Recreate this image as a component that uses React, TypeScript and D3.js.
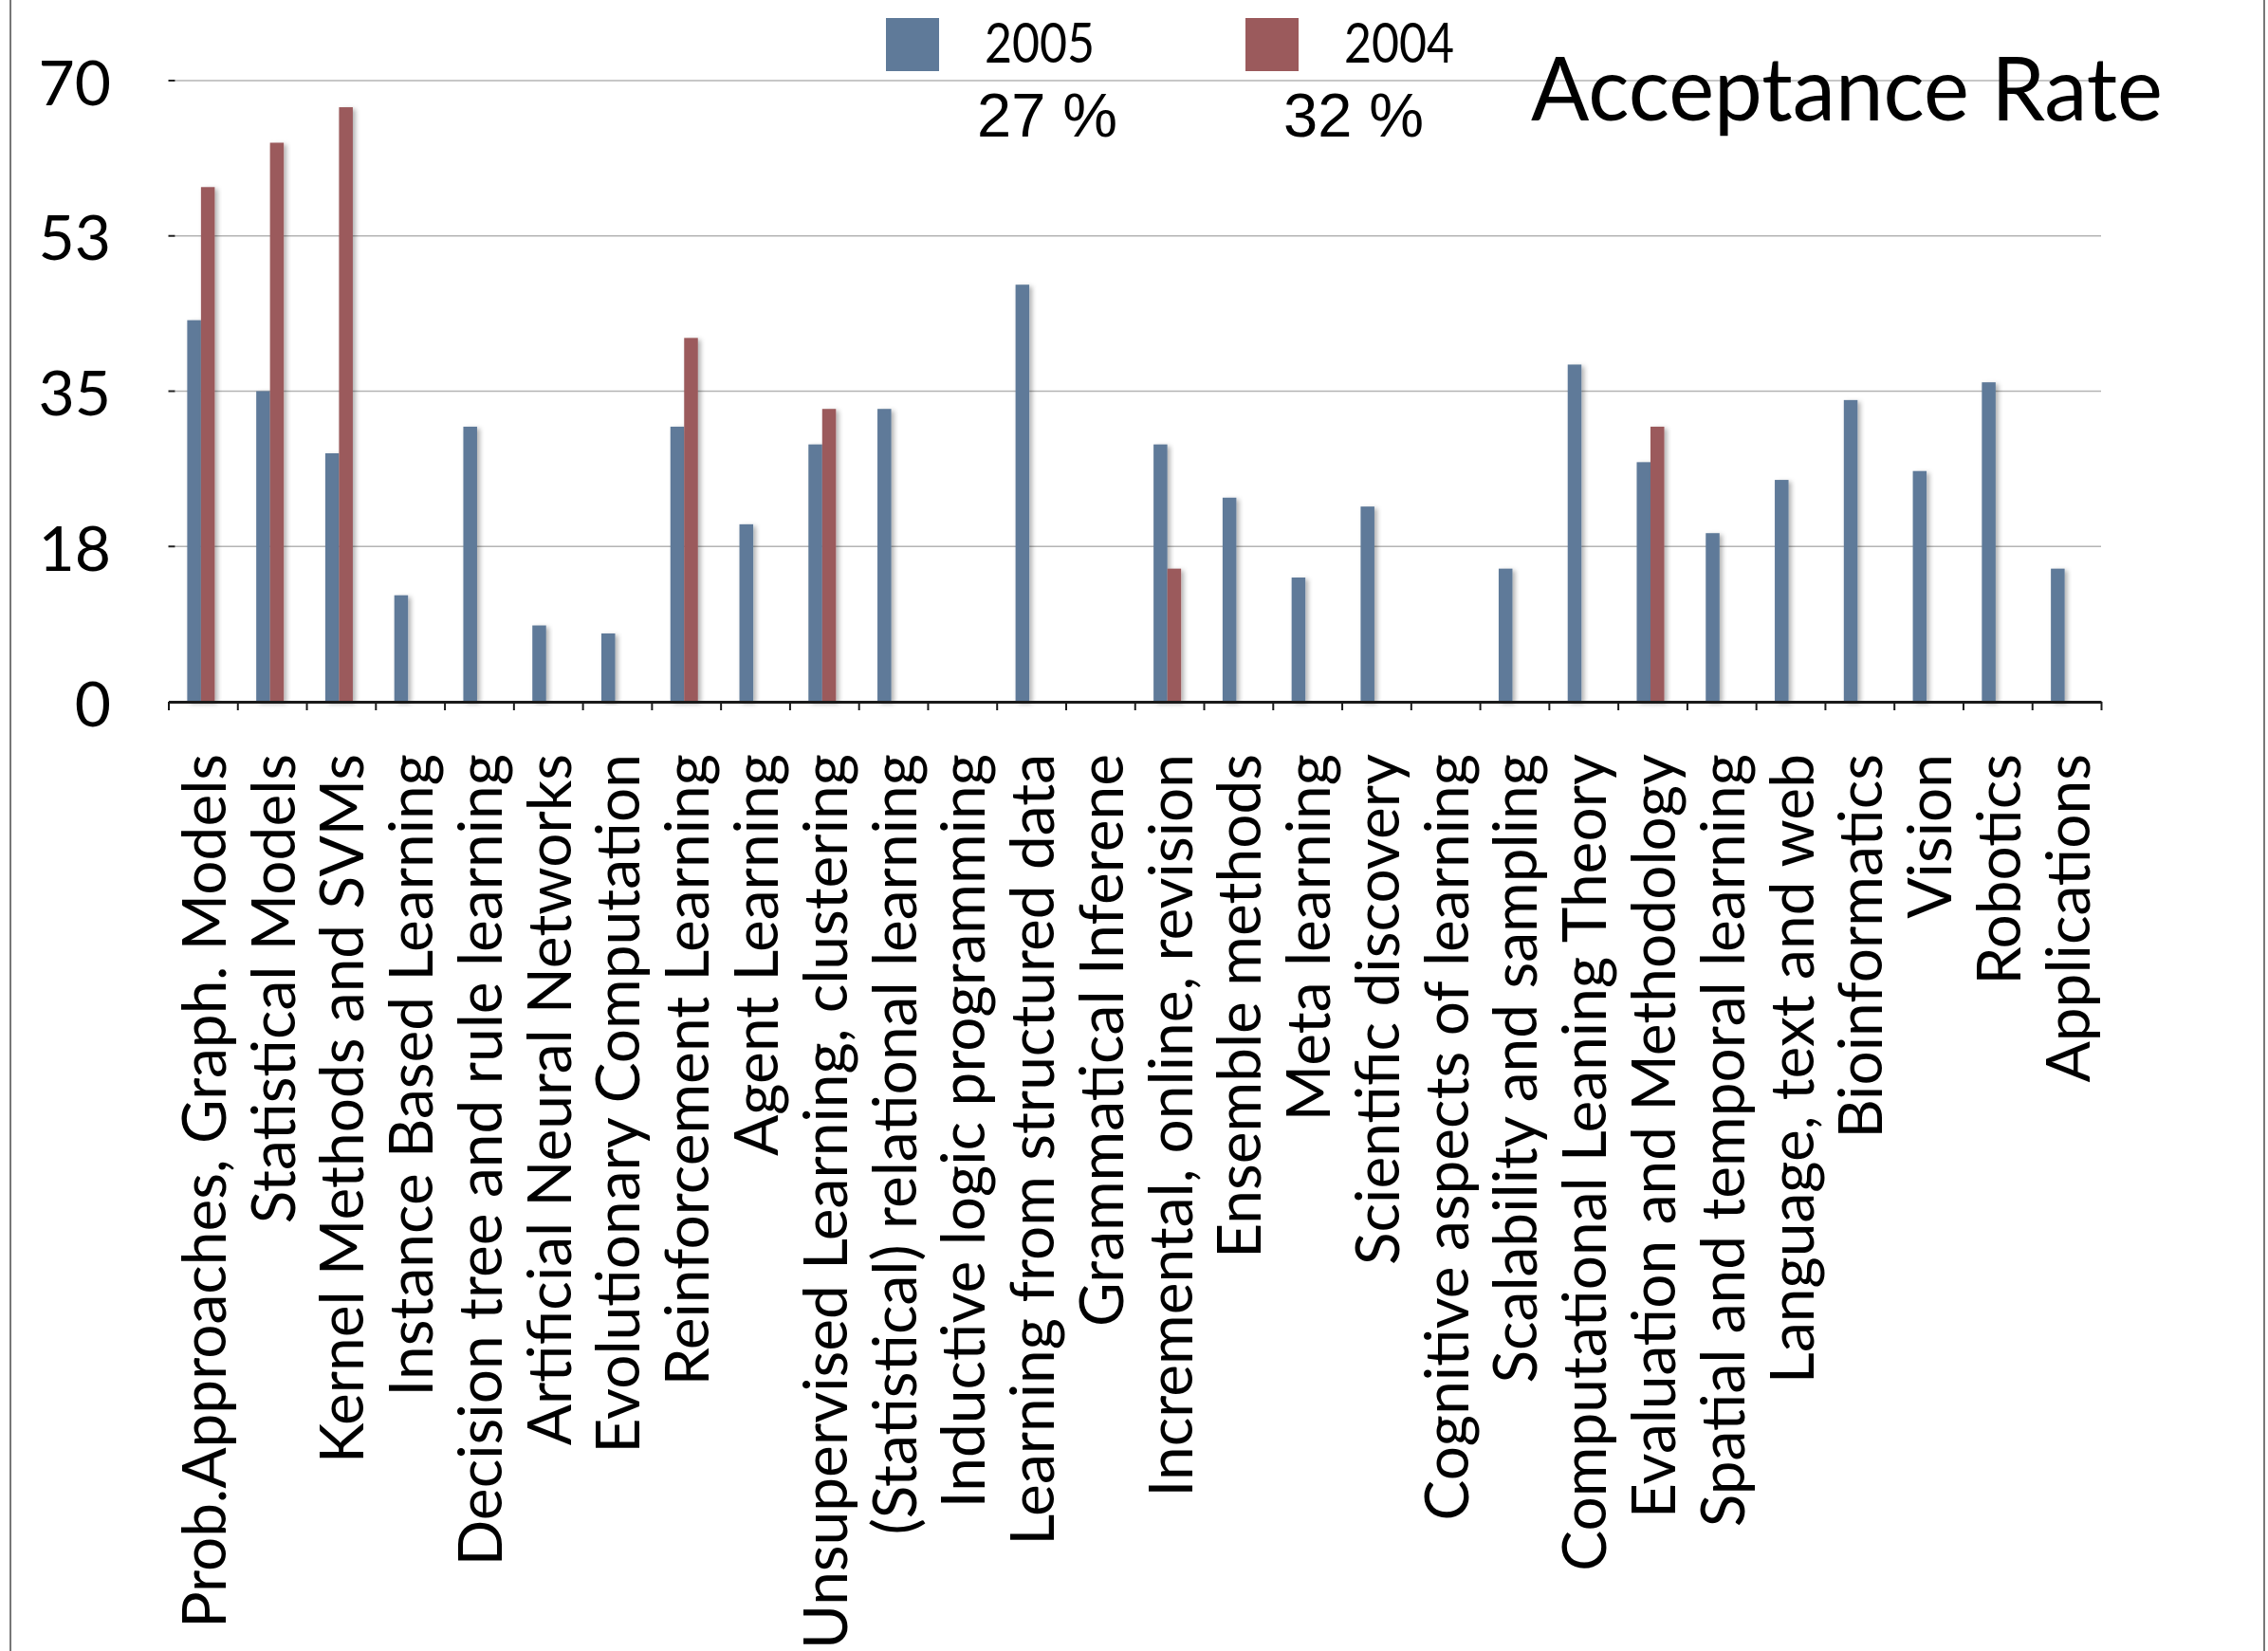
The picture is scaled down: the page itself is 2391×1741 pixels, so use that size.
import * as d3 from 'd3';
import { useEffect, useRef } from 'react';

// categories along the x axis, left to right
const categories = [
  'Prob.Approaches, Graph. Models',
  'Statistical Models',
  'Kernel Methods and SVMs',
  'Instance Based Learning',
  'Decision tree and rule learning',
  'Artificial Neural Networks',
  'Evolutionary Computation',
  'Reinforcement Learning',
  'Agent Learning',
  'Unsupervised Learning, clustering',
  '(Statistical) relational learning',
  'Inductive logic programming',
  'Learning from structured data',
  'Grammatical Inferene',
  'Incremental, online, revision',
  'Ensemble methods',
  'Meta learning',
  'Scientific discovery',
  'Cognitive aspects of learning',
  'Scalability and sampling',
  'Computational Leaning Theory',
  'Evaluation and Methodology',
  'Spatial and temporal learning',
  'Language, text and web',
  'Bioinformatics',
  'Vision',
  'Robotics',
  'Applications',
];

// null = no bar
const values2005 = [43, 35, 28, 12, 31, 8.6, 7.7, 31, 20, 29, 33, null, 47, null, 29, 23, 14, 22, null, 15, 38, 27, 19, 25, 34, 26, 36, 15];
const values2004 = [58, 63, 67, null, null, null, null, 41, null, 33, null, null, null, null, 15, null, null, null, null, null, null, 31, null, null, null, null, null, null];

const seriesNames = ['2005', '2004'];
const seriesRates = ['27 %', '32 %'];
const seriesColors = ['#5f7a99', '#9b5a5c'];

const yTickValues = [0, 17.5, 35, 52.5, 70];
const yTickLabels = ['0', '18', '35', '53', '70'];

export default function App() {
  const ref = useRef<SVGSVGElement>(null);

  useEffect(() => {
    const svg = d3.select(ref.current);
    svg.selectAll('*').remove();

    const width = 2391, height = 1741;
    const plot = { left: 177.5, right: 2215, top: 85, bottom: 740 };

    const x = d3.scaleBand().domain(categories).range([plot.left, plot.right]);
    const xs = d3.scaleBand().domain(seriesNames).range([-16.5, 12.5]);
    const xi = d3.scaleLinear().domain([0, categories.length]).range([plot.left, plot.right]);
    const y = d3.scaleLinear().domain([0, 70]).range([plot.bottom, plot.top]);
    const color = d3.scaleOrdinal<string, string>().domain(seriesNames).range(seriesColors);

    svg.append('rect').attr('width', width).attr('height', height).attr('fill', '#fff');

    const defs = svg.append('defs');
    defs.append('filter').attr('id', 'barShadow')
      .attr('x', '-50%').attr('y', '-5%').attr('width', '200%').attr('height', '110%')
      .append('feDropShadow')
      .attr('dx', 3).attr('dy', 2).attr('stdDeviation', 2.5)
      .attr('flood-color', '#000').attr('flood-opacity', 0.3);

    // slide edges
    svg.append('line').attr('x1', 11).attr('x2', 11).attr('y1', 0).attr('y2', height)
      .attr('stroke', '#777').attr('stroke-width', 2);
    svg.append('line').attr('x1', 2387).attr('x2', 2387).attr('y1', 0).attr('y2', height)
      .attr('stroke', '#777').attr('stroke-width', 2);

    // gridlines + y ticks
    svg.append('g').selectAll('line').data(yTickValues.slice(1)).join('line')
      .attr('x1', plot.left + 7).attr('x2', plot.right)
      .attr('y1', (d) => y(d)).attr('y2', (d) => y(d))
      .attr('stroke', '#b4b4b4').attr('stroke-width', 1.6);

    svg.append('g').selectAll('line').data(yTickValues.slice(1)).join('line')
      .attr('x1', plot.left).attr('x2', plot.left + 7)
      .attr('y1', (d) => y(d)).attr('y2', (d) => y(d))
      .attr('stroke', '#222').attr('stroke-width', 2);

    svg.append('g').selectAll('text').data(yTickValues).join('text')
      .attr('x', 117).attr('y', (d) => y(d)).attr('dy', '0.39em')
      .attr('text-anchor', 'end')
      .style('font-family', 'Lato, sans-serif').style('font-size', '66px')
      .text((d, i) => yTickLabels[i]);

    // bars
    const rows = categories.map((c, i) => ({ c, vals: [values2005[i], values2004[i]] }));
    const groups = svg.append('g').selectAll('g').data(rows).join('g')
      .attr('transform', (d) => `translate(${x(d.c)! + x.bandwidth() / 2},0)`);
    groups.selectAll('rect')
      .data((d) => seriesNames.map((s, k) => ({ s, v: d.vals[k] })).filter((e) => e.v != null))
      .join('rect')
      .attr('x', (d) => xs(d.s)!)
      .attr('width', xs.bandwidth())
      .attr('y', (d) => y(d.v as number))
      .attr('height', (d) => y(0) - y(d.v as number))
      .attr('fill', (d) => color(d.s))
      .attr('filter', 'url(#barShadow)');

    // bottom axis
    const xAxis = svg.append('g')
      .attr('transform', `translate(0,${plot.bottom})`)
      .call(d3.axisBottom(xi).tickValues(d3.range(categories.length + 1)).tickSize(9).tickSizeOuter(0).tickFormat(() => ''));
    xAxis.select('.domain').attr('stroke', '#1a1a1a').attr('stroke-width', 3);
    xAxis.selectAll('.tick line').attr('stroke', '#1a1a1a').attr('stroke-width', 2);

    // category labels
    svg.append('g').selectAll('text').data(categories).join('text')
      .attr('transform', (d) => `translate(${x(d)! + x.bandwidth() / 2 + 24},795) rotate(-90)`)
      .attr('text-anchor', 'end')
      .style('font-family', 'Lato, sans-serif').style('font-size', '64px')
      .text((d) => d);

    // legend
    const lx = [934, 1313];
    const legend = svg.append('g').selectAll('g').data(seriesNames).join('g');
    legend.append('rect')
      .attr('x', (d, i) => lx[i]).attr('y', 19).attr('width', 56).attr('height', 56)
      .attr('fill', (d) => color(d));
    legend.append('text')
      .attr('x', (d, i) => lx[i] + 104).attr('y', 66)
      .attr('textLength', 116).attr('lengthAdjust', 'spacingAndGlyphs')
      .style('font-family', 'Lato, sans-serif').style('font-size', '58px')
      .text((d) => d);
    legend.append('text')
      .attr('x', (d, i) => [1030, 1353][i]).attr('y', 144)
      .style('font-family', '"Liberation Sans", sans-serif').style('font-size', '65px')
      .text((d, i) => seriesRates[i]);

    // title
    svg.append('text')
      .attr('x', 1614).attr('y', 127)
      .attr('textLength', 666).attr('lengthAdjust', 'spacingAndGlyphs')
      .style('font-family', 'Lato, sans-serif').style('font-size', '94px')
      .text('Acceptance Rate');
  }, []);

  return (
    <svg
      ref={ref}
      width={2391}
      height={1741}
      style={{ position: 'absolute', left: 0, top: 0, display: 'block' }}
    />
  );
}
